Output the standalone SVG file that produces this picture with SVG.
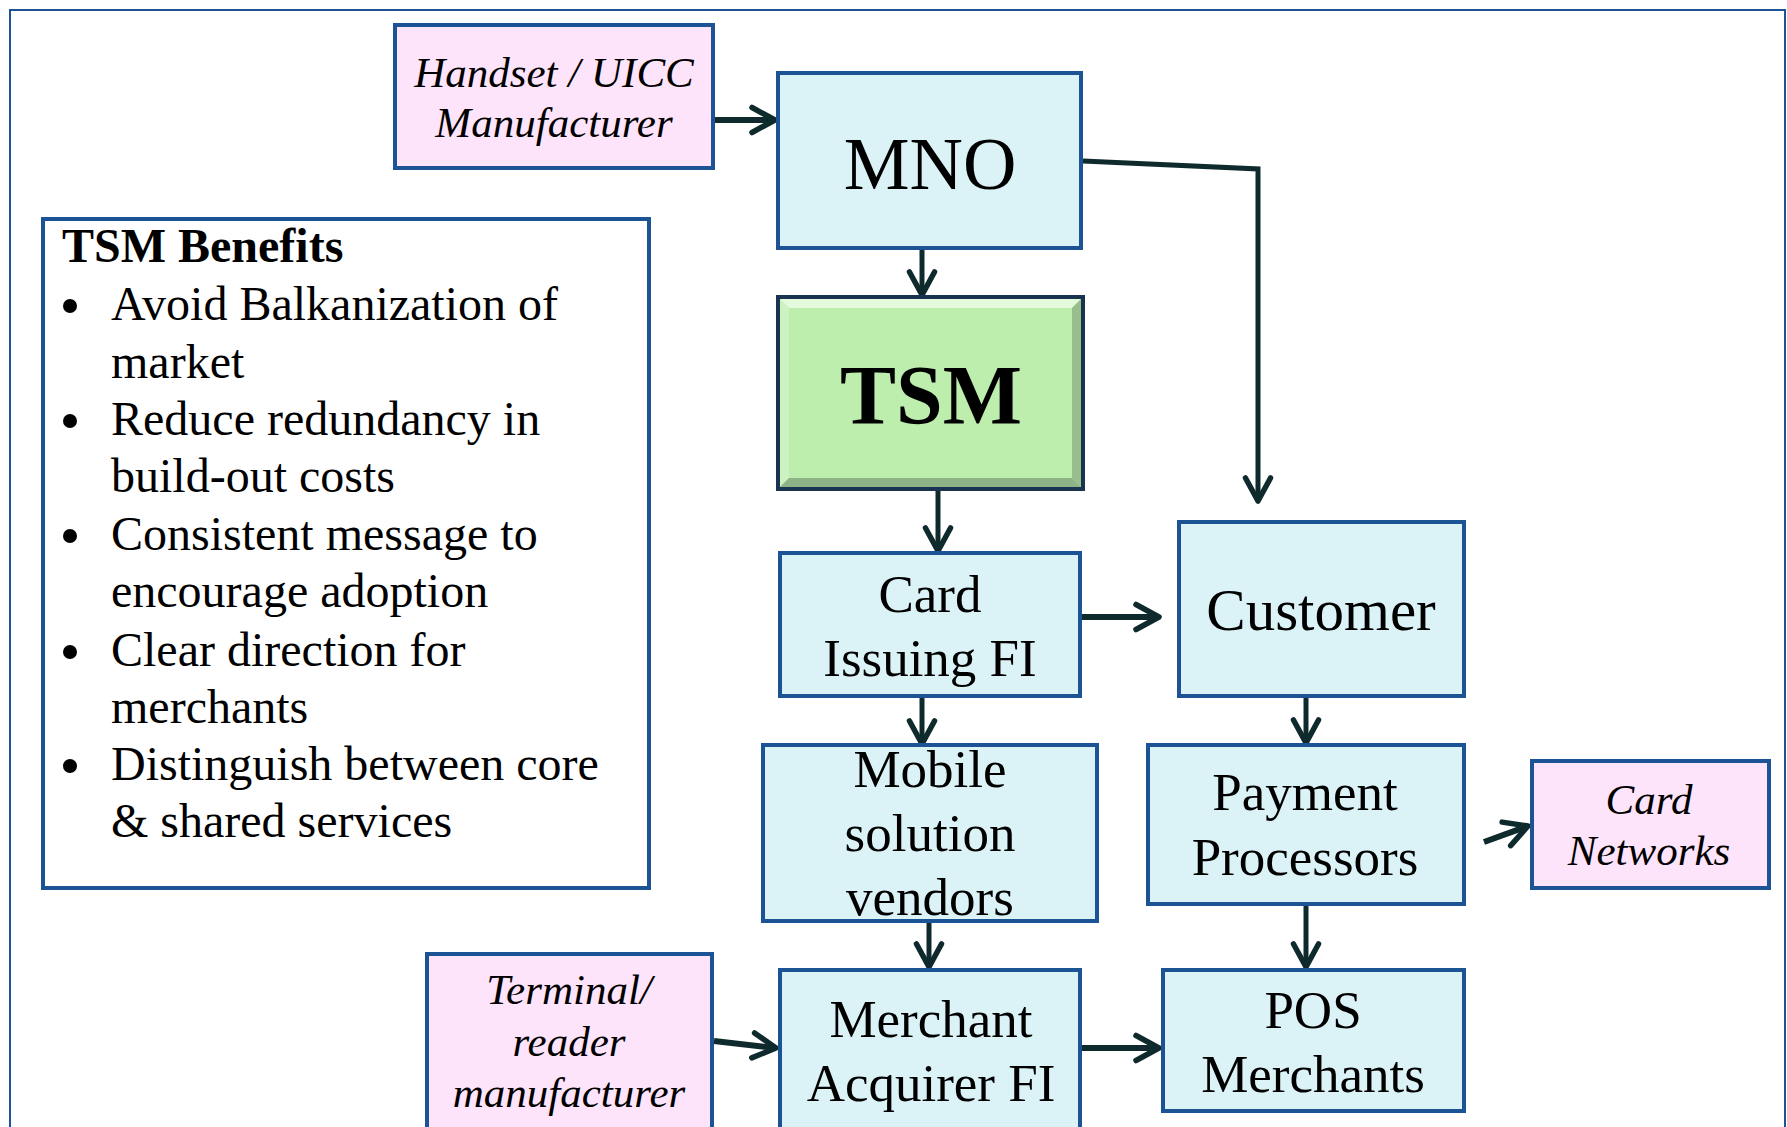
<svg xmlns="http://www.w3.org/2000/svg" width="1787" height="1127" viewBox="0 0 1787 1127">
<style>
text{font-family:"Liberation Serif","Times New Roman",serif;fill:#000}
.box{fill:#dbf3f7;stroke:#1c5394;stroke-width:4}
.pink{fill:#fde4fa;stroke:#1c5394;stroke-width:4}
.c{text-anchor:middle}
.n52{font-size:53px}
.it{font-style:italic;font-size:43px}
.ben{font-size:48px}
.conn{fill:none;stroke:#0f2a2d;stroke-width:5;marker-end:url(#ah)}
.thick{stroke-width:6}
</style>
<defs>
<marker id="ah" markerUnits="userSpaceOnUse" markerWidth="40" markerHeight="40" viewBox="-30 -20 40 40" refX="0" refY="0" orient="auto">
<path d="M-23,-12.5 L0,0 L-23,12.5" fill="none" stroke="#0f2a2d" stroke-width="5.5" stroke-linecap="round" stroke-linejoin="round"/>
</marker>
</defs>
<rect width="1787" height="1127" fill="#ffffff"/>
<rect x="10" y="10" width="1775" height="1140" fill="none" stroke="#1c5394" stroke-width="2"/>

<g id="connectors">
<line class="conn thick" x1="715" y1="120" x2="775" y2="120"/>
<line class="conn" x1="922" y1="250" x2="922" y2="295"/>
<path class="conn" d="M1083,161 L1258,169 L1258,501"/>
<line class="conn" x1="938" y1="491" x2="938" y2="551"/>
<line class="conn thick" x1="1082" y1="617" x2="1159" y2="617"/>
<line class="conn" x1="922" y1="698" x2="922" y2="744"/>
<line class="conn" x1="1306" y1="698" x2="1306" y2="743"/>
<line class="conn thick" x1="1484" y1="842" x2="1528" y2="826"/>
<line class="conn" x1="929" y1="923" x2="929" y2="967"/>
<line class="conn" x1="1306" y1="906" x2="1306" y2="967"/>
<line class="conn thick" x1="714" y1="1041" x2="776" y2="1048"/>
<line class="conn thick" x1="1082" y1="1048" x2="1159" y2="1048"/>
</g>

<g id="handset">
<rect class="pink" x="395" y="25" width="318" height="143"/>
<text class="it c" x="554" y="87">Handset / UICC</text>
<text class="it c" x="554" y="137">Manufacturer</text>
</g>

<g id="mno">
<rect class="box" x="778" y="73" width="303" height="175"/>
<text class="c" x="930" y="189" font-size="74">MNO</text>
</g>

<g id="tsm">
<rect x="778" y="297" width="305" height="192" fill="#bdeeae" stroke="#1a3350" stroke-width="4"/>
<polygon points="780,299 1081,299 1072,308 789,308" fill="#e4fadc"/>
<polygon points="780,299 789,308 789,478 780,487" fill="#cdf2c1"/>
<polygon points="1081,299 1081,487 1072,478 1072,308" fill="#96bf8c"/>
<polygon points="780,487 1081,487 1072,478 789,478" fill="#8fb386"/>
<text class="c" x="931" y="424" font-size="84" font-weight="bold">TSM</text>
</g>

<g id="card-issuing">
<rect class="box" x="780" y="553" width="300" height="143"/>
<text class="c n52" x="930" y="612">Card</text>
<text class="c n52" x="930" y="676">Issuing FI</text>
</g>

<g id="customer">
<rect class="box" x="1179" y="522" width="285" height="174"/>
<text class="c" x="1321" y="630" font-size="59">Customer</text>
</g>

<g id="mobile">
<rect class="box" x="763" y="745" width="334" height="176"/>
<text class="c n52" x="930" y="787">Mobile</text>
<text class="c n52" x="930" y="851">solution</text>
<text class="c n52" x="930" y="915">vendors</text>
</g>

<g id="payment">
<rect class="box" x="1148" y="745" width="316" height="159"/>
<text class="c n52" x="1305" y="810">Payment</text>
<text class="c n52" x="1305" y="875">Processors</text>
</g>

<g id="card-networks">
<rect class="pink" x="1532" y="761" width="237" height="127"/>
<text class="it c" x="1649" y="814">Card</text>
<text class="it c" x="1649" y="865">Networks</text>
</g>

<g id="merchant-acquirer">
<rect class="box" x="780" y="970" width="300" height="180"/>
<text class="c n52" x="931" y="1037">Merchant</text>
<text class="c n52" x="931" y="1101">Acquirer FI</text>
</g>

<g id="pos">
<rect class="box" x="1163" y="970" width="301" height="141"/>
<text class="c n52" x="1313" y="1028">POS</text>
<text class="c n52" x="1313" y="1092">Merchants</text>
</g>

<g id="terminal">
<rect class="pink" x="427" y="954" width="285" height="196"/>
<text class="it c" x="569" y="1004">Terminal/</text>
<text class="it c" x="569" y="1056">reader</text>
<text class="it c" x="569" y="1107">manufacturer</text>
</g>

<g id="benefits">
<rect x="43" y="219" width="606" height="669" fill="#ffffff" stroke="#1c5394" stroke-width="4"/>
<text x="62" y="262" font-size="48" font-weight="bold">TSM Benefits</text>
<g fill="#000">
<circle cx="70" cy="306" r="7"/>
<circle cx="70" cy="421" r="7"/>
<circle cx="70" cy="536" r="7"/>
<circle cx="70" cy="652" r="7"/>
<circle cx="70" cy="766" r="7"/>
</g>
<g class="ben">
<text x="111" y="320">Avoid Balkanization of</text>
<text x="111" y="378">market</text>
<text x="111" y="435">Reduce redundancy in</text>
<text x="111" y="492">build-out costs</text>
<text x="111" y="550">Consistent message to</text>
<text x="111" y="607">encourage adoption</text>
<text x="111" y="666">Clear direction for</text>
<text x="111" y="723">merchants</text>
<text x="111" y="780">Distinguish between core</text>
<text x="111" y="837">&amp; shared services</text>
</g>
</g>
</svg>
